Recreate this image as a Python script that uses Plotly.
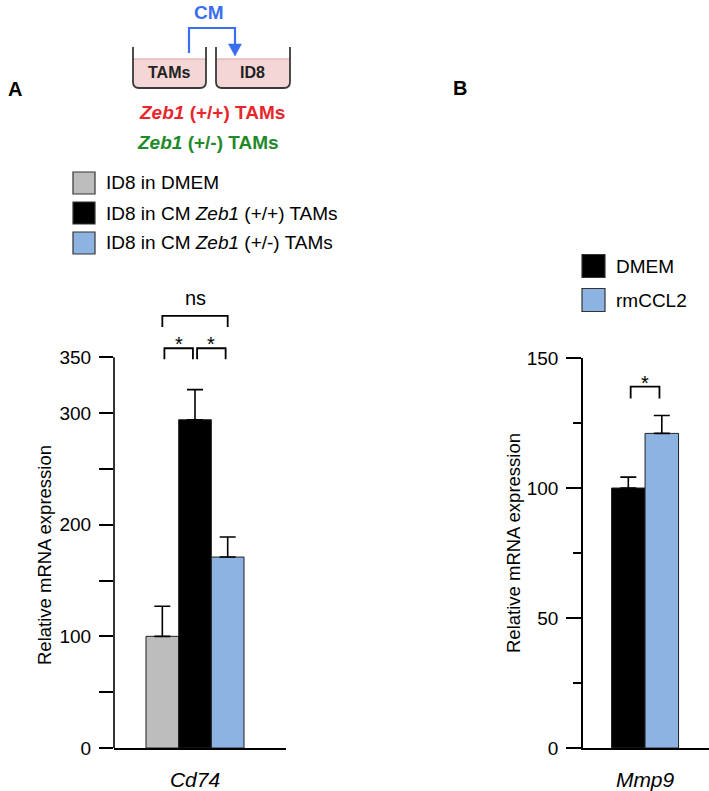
import plotly.graph_objects as go

W, H = 709, 791
FONT = "Liberation Sans, Arial, Helvetica, sans-serif"

# ---------------- Data ----------------
# Panel A
a_category = ["Cd74"]
a_series = ["ID8 in DMEM",
            "ID8 in CM <i>Zeb1</i> (+/+) TAMs",
            "ID8 in CM <i>Zeb1</i> (+/-) TAMs"]
a_values = [100, 294, 171]
a_errors = [27, 27, 18]
a_colors = ["#bdbdbd", "#000000", "#8db3e2"]
a_yticks = [0, 100, 200, 300, 350]
a_yminor = [50, 150, 250]
a_comparisons = [(0, 1, 358, "*"), (1, 2, 358, "*"), (0, 2, 387, "ns")]

# Panel B
b_category = ["Mmp9"]
b_series = ["DMEM", "rmCCL2"]
b_values = [100, 121]
b_errors = [4.2, 6.9]
b_colors = ["#000000", "#8db3e2"]
b_yticks = [0, 50, 100, 150]
b_yminor = [25, 75, 125]
b_comparisons = [(0, 1, 139, "*")]

y_title = "Relative mRNA expression"

# ---------------- Layout constants ----------------
BARGAP = 0.43


def px(x):
    return x / W


def py(y):
    return 1 - y / H


A_XDOM = [px(114), px(286)]
A_YDOM = [py(748), py(290.2)]
A_RANGE = [0, 410]
A_XRANGE = [-0.471, 0.529]

B_XDOM = [px(583), 1.0]
B_YDOM = [py(748), py(358)]
B_RANGE = [0, 150]
B_XRANGE = [-0.528, 0.544]

fig = go.Figure()


def add_bars(cat, names, vals, errs, colors, xa, ya):
    for n, v, e, c in zip(names, vals, errs, colors):
        fig.add_trace(go.Bar(
            x=cat, y=[v], name=n, xaxis=xa, yaxis=ya, showlegend=False,
            marker=dict(color=c, line=dict(color="#222222", width=1)),
            error_y=dict(type="data", symmetric=False, array=[e], arrayminus=[0],
                         color="black", thickness=1.6, width=8),
        ))


add_bars(a_category, a_series, a_values, a_errors, a_colors, "x", "y")
add_bars(b_category, b_series, b_values, b_errors, b_colors, "x2", "y2")

shapes = []
annotations = []


def text(x, y, t, size, color="black", xanchor="center", yanchor="middle", **kw):
    d = dict(x=x, y=y, xref="paper", yref="paper", text=t, showarrow=False,
             xanchor=xanchor, yanchor=yanchor,
             font=dict(size=size, color=color, family=FONT))
    d.update(kw)
    annotations.append(d)


def bar_center(i, n):
    gw = 1 - BARGAP
    bw = gw / n
    return -gw / 2 + bw * (i + 0.5)


def add_brackets(comps, n, xref, yref, ydom, yrange, leg_px=11, inset=0.012):
    k = (ydom[1] - ydom[0]) * H / (yrange[1] - yrange[0])  # px per unit
    leg = leg_px / k
    for i, j, y, lab in comps:
        x0 = bar_center(i, n) + (inset if lab == "*" else 0)
        x1 = bar_center(j, n) - (inset if lab == "*" else 0)
        shapes.append(dict(type="path", xref=xref, yref=yref,
                           path=f"M {x0},{y-leg} L {x0},{y} L {x1},{y} L {x1},{y-leg}",
                           line=dict(color="black", width=1.8)))
        annotations.append(dict(x=(x0 + x1) / 2, y=y, xref=xref, yref=yref, text=lab,
                                showarrow=False, xanchor="center", yanchor="bottom",
                                yshift=(-9 if lab == "*" else 5),
                                font=dict(size=20, color="black", family=FONT)))


add_brackets(a_comparisons, len(a_series), "x", "y", A_YDOM, A_RANGE)
add_brackets(b_comparisons, len(b_series), "x2", "y2", B_YDOM, B_RANGE, leg_px=12, inset=0.02)

# visible y axis line for panel A (stops at top tick)
shapes.append(dict(type="line", xref="x domain", x0=0, x1=0, yref="y",
                   y0=0, y1=max(a_yticks), line=dict(color="black", width=1.6)))

# y-axis titles
text(px(44), py(555), y_title, 18.5, textangle=-90)
text(px(513), py(543), y_title, 18.5, textangle=-90)


# manual legends with large swatches
def add_legend(names, colors, x_box, y0, dy, box=22, font_size=19):
    for i, (n, c) in enumerate(zip(names, colors)):
        yc = y0 + dy * i
        shapes.append(dict(type="rect", xref="paper", yref="paper",
                           x0=px(x_box), x1=px(x_box + box),
                           y0=py(yc + box / 2), y1=py(yc - box / 2),
                           fillcolor=c, line=dict(color="#333333", width=1.2)))
        text(px(x_box + box + 9), py(yc), n, font_size, xanchor="left")


add_legend(a_series, a_colors, 73, 183, 30)
add_legend(b_series, b_colors, 582, 266, 34, box=23)

# panel letters
text(px(15), py(89), "<b>A</b>", 20)
text(px(460), py(88), "<b>B</b>", 20)

# ---------------- schematic (top) ----------------
WALL = "#3a3a3a"
LIQ = "#f4d6d6"
LIQLINE = "#d9a3a3"
BLUE = "#3a6ef0"


def beaker(x0, x1, top=47, liq=59, bot=88, r=6):
    body = (f"L {px(x0)},{py(bot-r)} "
            f"Q {px(x0)},{py(bot)} {px(x0+r)},{py(bot)} "
            f"L {px(x1-r)},{py(bot)} Q {px(x1)},{py(bot)} {px(x1)},{py(bot-r)} ")
    shapes.append(dict(type="path", xref="paper", yref="paper",
                       path=f"M {px(x0)},{py(liq)} " + body + f"L {px(x1)},{py(liq)} Z",
                       fillcolor=LIQ, line=dict(width=0)))
    shapes.append(dict(type="line", xref="paper", yref="paper",
                       x0=px(x0), x1=px(x1), y0=py(liq), y1=py(liq),
                       line=dict(color=LIQLINE, width=1.2)))
    shapes.append(dict(type="path", xref="paper", yref="paper",
                       path=f"M {px(x0)},{py(top)} " + body + f"L {px(x1)},{py(top)}",
                       line=dict(color=WALL, width=1.8)))


beaker(133, 206)
beaker(216, 290)

shapes.append(dict(type="path", xref="paper", yref="paper",
                   path=(f"M {px(189)},{py(53)} L {px(189)},{py(28)} "
                         f"L {px(235)},{py(28)} L {px(235)},{py(45)}"),
                   line=dict(color=BLUE, width=2.2)))
shapes.append(dict(type="path", xref="paper", yref="paper",
                   path=f"M {px(228.5)},{py(44)} L {px(241.5)},{py(44)} L {px(235)},{py(56)} Z",
                   fillcolor=BLUE, line=dict(color=BLUE, width=0.5)))

text(px(209), py(13), "<b>CM</b>", 19, BLUE)
text(px(168.5), py(72), "<b>TAMs</b>", 16, "#222222")
text(px(252.5), py(72), "<b>ID8</b>", 16, "#222222")
text(px(137), py(113), "<b><i>Zeb1</i> (+/+) TAMs</b>", 19, "#e8262b", xanchor="left")
text(px(135), py(142), "<b><i>Zeb1</i> (+/-) TAMs</b>", 19, "#1f8a2a", xanchor="left")

# ---------------- axes ----------------
tickfont = dict(size=19, color="black", family=FONT)

fig.update_layout(
    width=W, height=H,
    margin=dict(l=0, r=0, t=0, b=0, pad=0),
    paper_bgcolor="white", plot_bgcolor="white",
    barmode="group", bargap=BARGAP, bargroupgap=0,
    showlegend=False,
    font=dict(family=FONT, color="black"),
    shapes=shapes, annotations=annotations,
    xaxis=dict(domain=A_XDOM, anchor="y", range=A_XRANGE, showline=True, linecolor="black",
               linewidth=1.6, ticks="", tickmode="array", tickvals=a_category,
               ticktext=[f"<i>{c}</i>" for c in a_category], ticklabelstandoff=12,
               tickfont=dict(size=21, color="black", family=FONT), showgrid=False,
               zeroline=False, automargin=False),
    yaxis=dict(domain=A_YDOM, anchor="x", range=A_RANGE, showline=False, ticks="outside",
               ticklen=14, tickwidth=1.6, tickcolor="black", tickmode="array",
               tickvals=a_yticks, ticktext=[str(t) for t in a_yticks],
               minor=dict(tickvals=a_yminor, ticks="outside", ticklen=14, tickwidth=1.6,
                          tickcolor="black", showgrid=False),
               tickfont=tickfont, ticklabelstandoff=4, showgrid=False, zeroline=False,
               automargin=False),
    xaxis2=dict(domain=B_XDOM, anchor="y2", range=B_XRANGE, showline=True, linecolor="black",
                linewidth=1.6, ticks="", tickmode="array", tickvals=b_category,
                ticktext=[f"<i>{c}</i>" for c in b_category], ticklabelstandoff=12,
                tickfont=dict(size=21, color="black", family=FONT), showgrid=False,
                zeroline=False, automargin=False),
    yaxis2=dict(domain=B_YDOM, anchor="x2", range=B_RANGE, showline=True, linecolor="black",
                linewidth=1.6, ticks="outside", ticklen=15, tickwidth=1.6, tickcolor="black",
                tickmode="array", tickvals=b_yticks, ticktext=[str(t) for t in b_yticks],
                minor=dict(tickvals=b_yminor, ticks="outside", ticklen=8, tickwidth=1.6,
                           tickcolor="black", showgrid=False),
                tickfont=tickfont, ticklabelstandoff=4, showgrid=False, zeroline=False,
                automargin=False),
)

fig.write_html(
    "out.html",
    config={"displayModeBar": False},
    post_script="document.documentElement.style.margin='0';document.body.style.margin='0';"
                "document.body.style.overflow='hidden';",
)
